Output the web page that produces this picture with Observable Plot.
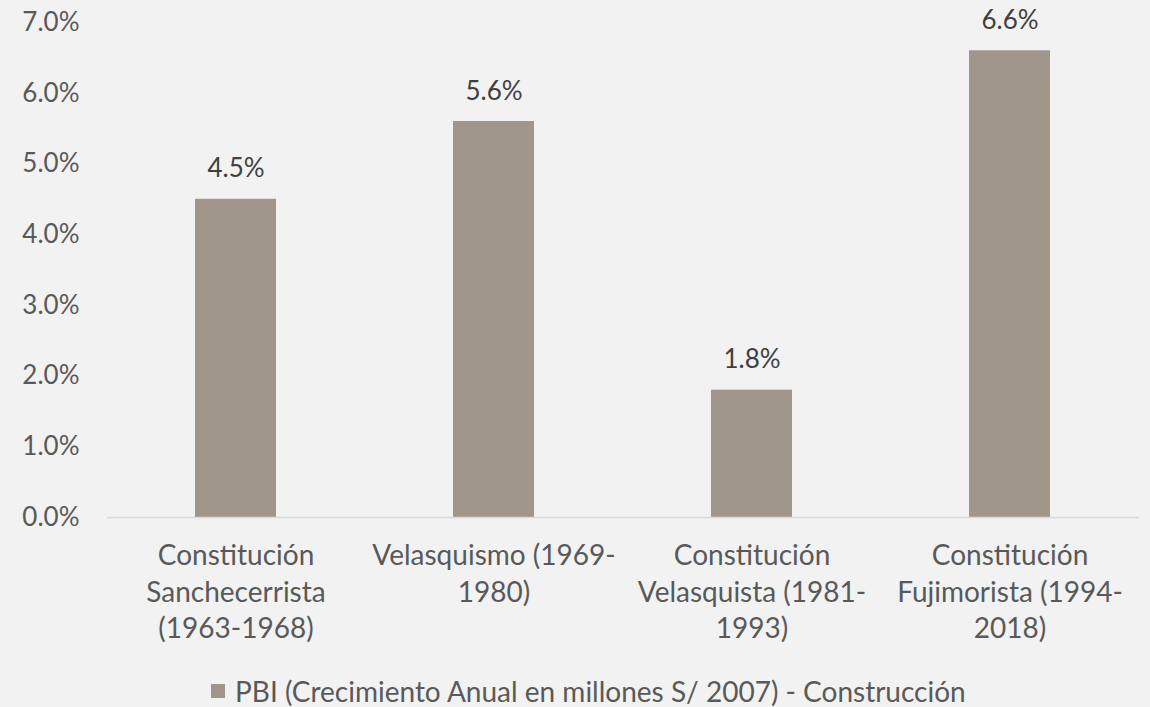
<!DOCTYPE html>
<html><head><meta charset="utf-8">
<script src="https://cdn.jsdelivr.net/npm/d3@7"></script>
<script src="https://cdn.jsdelivr.net/npm/@observablehq/plot@0.6"></script>
<style>
html,body{margin:0;padding:0;background:#f2f2f2;width:1150px;height:707px;overflow:hidden;font-family:Lato,"Open Sans",sans-serif;}
#chart svg{display:block;}
#legend{box-sizing:border-box;height:47px;padding-top:15px;padding-left:211px;display:flex;align-items:center;font-size:28px;color:#595959;white-space:nowrap;}
#legend .sw{display:inline-block;width:14px;height:14px;background:#a0968a;margin-right:10px;}
</style></head><body>
<div id="chart"></div>
<div id="legend"><span class="sw"></span><span id="legtext"></span></div>
<script>
const categories = [
  "Constitución Sanchecerrista (1963-1968)",
  "Velasquismo (1969-1980)",
  "Constitución Velasquista (1981-1993)",
  "Constitución Fujimorista (1994-2018)"
];
const tickLabels = [
  "Constitución\nSanchecerrista\n(1963-1968)",
  "Velasquismo (1969-\n1980)",
  "Constitución\nVelasquista (1981-\n1993)",
  "Constitución\nFujimorista (1994-\n2018)"
];
const values = [0.045, 0.056, 0.018, 0.066];
const yTicks = [0, 0.01, 0.02, 0.03, 0.04, 0.05, 0.06, 0.07];
const seriesName = "PBI (Crecimiento Anual en millones S/ 2007) - Construcción";

const data = categories.map((c, i) => ({category: c, value: values[i]}));
const pct = v => (v * 100).toFixed(1) + "%";

const plot = Plot.plot({
  width: 1150,
  height: 660,
  marginTop: 22,
  marginBottom: 143,
  marginLeft: 107,
  marginRight: 11,
  style: {background: "#f2f2f2", fontFamily: "Lato, 'Open Sans', sans-serif", fontSize: "26px", color: "#595959", overflow: "visible"},
  x: {domain: categories, paddingInner: 0.686, paddingOuter: 0.343, label: null},
  y: {domain: [0, 0.07], label: null},
  marks: [
    Plot.axisY({ticks: yTicks, tickSize: 0, tickPadding: 28, tickFormat: pct, fill: "#595959", fontSize: 26, label: null}),
    Plot.barY(data, {x: "category", y: "value", fill: "#a0968a"}),
    Plot.ruleY([0], {stroke: "#d9d9d9", strokeWidth: 1.5}),
    Plot.axisX({tickSize: 0, tickPadding: 22, tickFormat: d => tickLabels[categories.indexOf(d)], lineHeight: 1.3, fill: "#595959", fontSize: 28, label: null}),
    Plot.text(data, {x: "category", y: "value", text: d => pct(d.value), lineAnchor: "bottom", dy: -22, fill: "#404040", fontSize: 26})
  ]
});
document.getElementById("chart").appendChild(plot);
document.getElementById("legtext").textContent = seriesName;
</script>
</body></html>
